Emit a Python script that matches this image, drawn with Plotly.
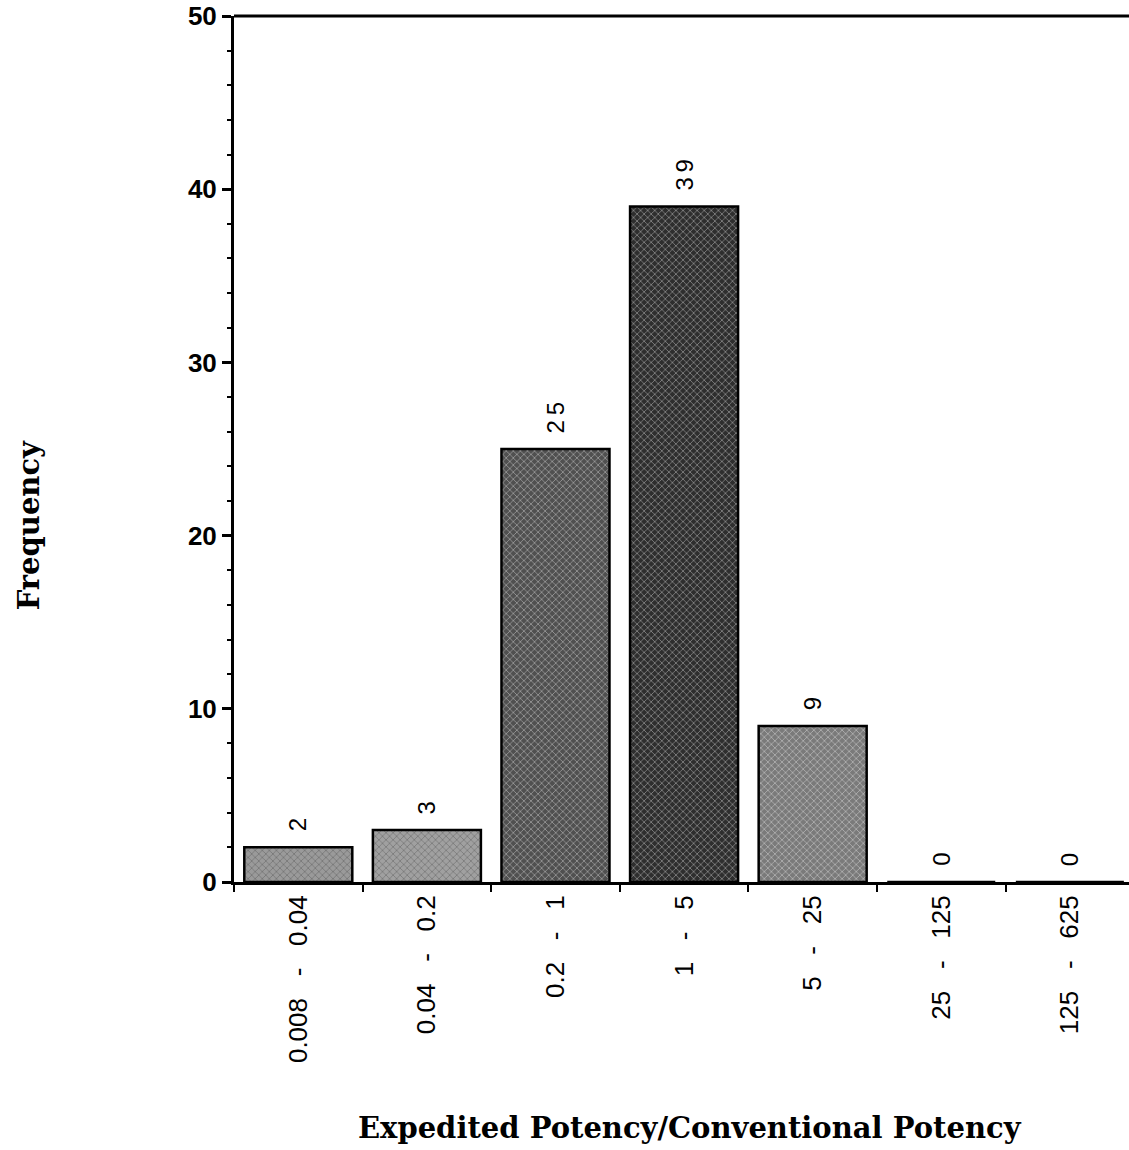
import plotly.graph_objects as go

SP = "\u00a0" * 3
categories = [f"0.008{SP}-{SP}0.04", f"0.04{SP}-{SP}0.2", f"0.2{SP}-{SP}1",
              f"1{SP}-{SP}5", f"5{SP}-{SP}25", f"25{SP}-{SP}125", f"125{SP}-{SP}625"]
frequency = [2, 3, 25, 39, 9, 0, 0]
bar_colors = ["#9a9a9a", "#a0a0a0", "#505050", "#2e2e2e", "#7a7a7a", "#909090", "#909090"]
y_ticks = [0, 10, 20, 30, 40, 50]

fig = go.Figure()
fig.add_trace(go.Bar(
    x=categories, y=frequency,
    marker=dict(color=bar_colors, line=dict(color="black", width=2.5),
                pattern=dict(shape="x", size=5, solidity=0.25, fgcolor="#111111",
                             bgcolor=bar_colors, fillmode="overlay")),
    width=0.84,
))

# value labels above bars (rotated)
for cat, val in zip(categories, frequency):
    fig.add_annotation(x=cat, y=val, xref="x", yref="y",
                       text="\u2009".join(str(val)), textangle=-90,
                       showarrow=False, xanchor="center", yanchor="bottom",
                       yshift=14,
                       font=dict(family="Liberation Sans", size=24, color="black"))

fig.update_layout(
    width=1129, height=1150,
    margin=dict(l=234, r=0, t=16, b=268, autoexpand=False),
    paper_bgcolor="white", plot_bgcolor="white",
    showlegend=False,
)
fig.update_xaxes(
    range=[-0.5, 6.46], automargin=False,
    tickangle=-90, tickson="boundaries",
    ticks="outside", ticklen=7, tickwidth=2, tickcolor="black",
    showline=True, linecolor="black", linewidth=3,
    showgrid=False,
    tickfont=dict(family="Liberation Sans", size=26, color="black"),
)
fig.update_yaxes(
    range=[0, 50], automargin=False,
    tickvals=y_ticks,
    ticks="outside", ticklen=9, tickwidth=2.5, tickcolor="black",
    showline=True, linecolor="black", linewidth=3,
    showgrid=False, zeroline=False,
    ticklabeloverflow="allow",
    tickfont=dict(family="Liberation Sans", size=26, color="black", weight="bold"),
    minor=dict(dtick=2, ticks="outside", ticklen=4, tickwidth=1.5, tickcolor="black"),
)
# top frame line
fig.add_shape(type="line", xref="paper", yref="paper", x0=0, x1=1, y0=1, y1=1,
              line=dict(color="black", width=3))

fig.add_annotation(text="<b>Expedited Potency/Conventional Potency</b>",
                   xref="paper", yref="paper", x=0.51, y=-0.284,
                   showarrow=False, xanchor="center", yanchor="middle",
                   font=dict(family="DejaVu Serif", size=29, color="black"))
fig.add_annotation(text="<b>Frequency</b>", textangle=-90,
                   xref="paper", yref="paper", x=-0.229, y=0.412,
                   showarrow=False, xanchor="center", yanchor="middle",
                   font=dict(family="DejaVu Serif", size=29, color="black"))

fig.write_html("out.html", config={"displayModeBar": False},
               post_script="document.body.style.margin='0px';")
